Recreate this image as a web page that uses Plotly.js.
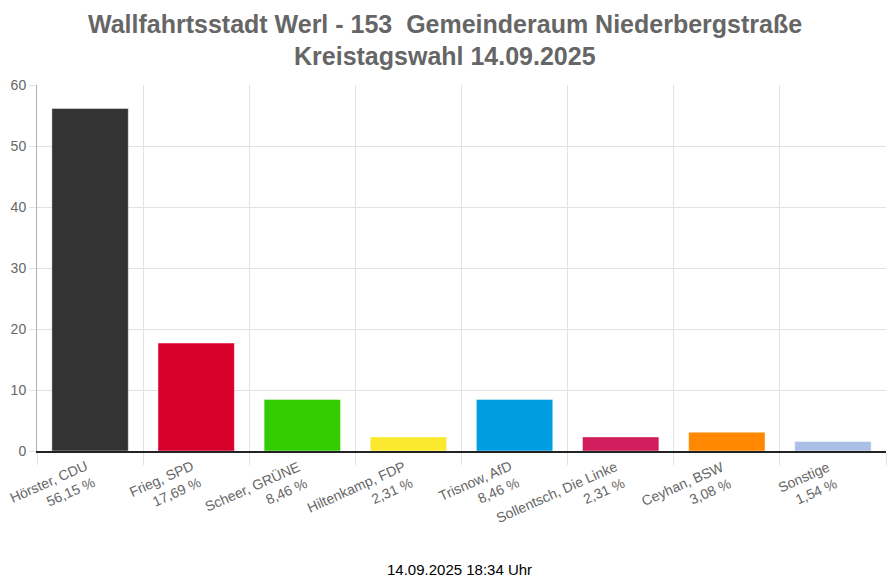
<!DOCTYPE html>
<html>
<head>
<meta charset="utf-8">
<script src="https://cdn.plot.ly/plotly-3.0.1.min.js"></script>
<style>
  html, body { margin: 0; padding: 0; background: #ffffff; }
  #chart { width: 890px; height: 585px; }
</style>
</head>
<body>
<div id="chart"></div>
<script>
// Kreistagswahl 14.09.2025 - Stimmbezirk 153 Gemeinderaum Niederbergstraße
const candidates = ["Hörster, CDU", "Frieg, SPD", "Scheer, GRÜNE", "Hiltenkamp, FDP",
  "Trisnow, AfD", "Sollentsch, Die Linke", "Ceyhan, BSW", "Sonstige"];
const shares = [56.15, 17.69, 8.46, 2.31, 8.46, 2.31, 3.08, 1.54];
const partyColors = ["#333333", "#d7002b", "#33cc00", "#fbe92f",
  "#009ee0", "#d01d5c", "#ff8800", "#a9bfe6"];

const titleLines = ["Wallfahrtsstadt Werl - 153\u00a0 Gemeinderaum Niederbergstraße", "Kreistagswahl 14.09.2025"];
const timestamp = "14.09.2025 18:34 Uhr";

const fmt = (v) => v.toFixed(2).replace(".", ",") + " %";
const idx = candidates.map((_, i) => i);

const FONT = "Liberation Sans, Arial, sans-serif";
const gridColor = "#e2e2e2";
const textColor = "#666666";

const trace = {
  type: "bar",
  x: idx,
  y: shares,
  width: 0.72,
  marker: {
    color: partyColors,
    line: { color: "rgba(255,255,255,0.45)", width: 1 }
  },
  hoverinfo: "skip",
  showlegend: false
};

// rotated two-line category labels, right aligned like the original
const labelAnnotations = candidates.map((name, i) => ({
  x: i + 0.09,
  xref: "x",
  y: -0.012,
  yref: "paper",
  text: name + "<br>" + fmt(shares[i]),
  showarrow: false,
  textangle: -24,
  xanchor: "right",
  yanchor: "top",
  align: "right",
  font: { family: FONT, size: 14, color: textColor }
}));

// title lines as separate annotations (paper coords above the plot area)
const titleY = [1.1667, 1.0792];
const titleAnnotations = titleLines.map((t, i) => ({
  x: 0.4806,
  xref: "paper",
  y: titleY[i],
  yref: "paper",
  text: "<b>" + t + "</b>",
  showarrow: false,
  xanchor: "center",
  yanchor: "middle",
  font: { family: FONT, size: 25, color: textColor }
}));

const layout = {
  width: 890,
  height: 585,
  paper_bgcolor: "#ffffff",
  plot_bgcolor: "#ffffff",
  margin: { l: 37, r: 4, t: 85, b: 134 },
  font: { family: FONT, color: textColor },
  xaxis: {
    range: [-0.5, candidates.length - 0.5],
    tick0: -0.5,
    dtick: 1,
    showticklabels: false,
    ticks: "outside",
    ticklen: 12,
    tickcolor: gridColor,
    showgrid: true,
    gridcolor: gridColor,
    zeroline: false,
    showline: true,
    linecolor: "#222222",
    linewidth: 1.5,
    fixedrange: true
  },
  yaxis: {
    range: [0, 60],
    dtick: 10,
    ticks: "outside",
    ticklen: 7,
    tickcolor: gridColor,
    showgrid: true,
    gridcolor: gridColor,
    zeroline: false,
    showline: true,
    linecolor: "#b0b0b0",
    linewidth: 1,
    tickfont: { family: FONT, size: 14, color: textColor },
    fixedrange: true
  },
  annotations: titleAnnotations.concat(labelAnnotations, [{
    x: 0.4982,
    xref: "paper",
    y: -0.323,
    yref: "paper",
    text: timestamp,
    showarrow: false,
    xanchor: "center",
    yanchor: "middle",
    font: { family: FONT, size: 15, color: "#000000" }
  }])
};

Plotly.newPlot("chart", [trace], layout, { displayModeBar: false, staticPlot: true });
</script>
</body>
</html>
